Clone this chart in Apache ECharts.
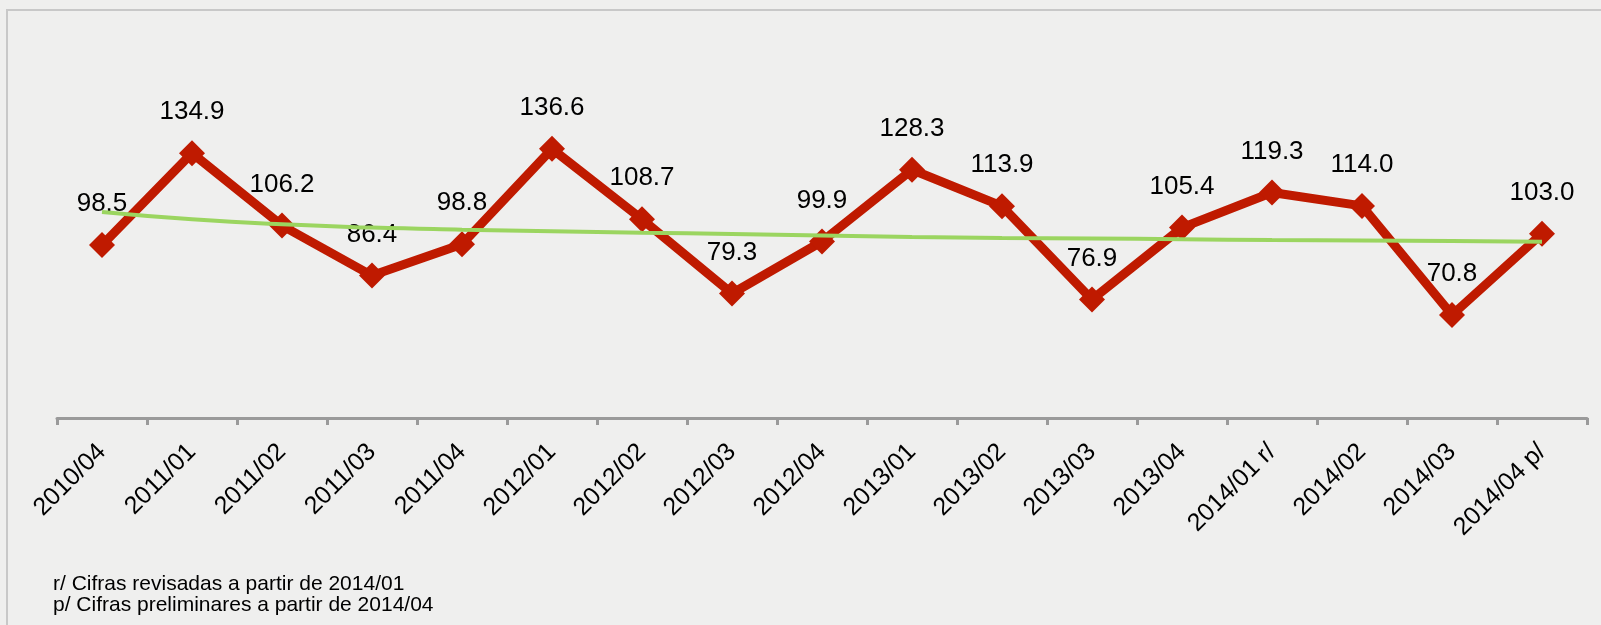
<!DOCTYPE html>
<html>
<head>
<meta charset="utf-8">
<script src="https://cdn.jsdelivr.net/npm/echarts@6/dist/echarts.min.js"></script>
<style>
  html, body { margin: 0; padding: 0; background: #efefee; }
  #chart { width: 1601px; height: 625px; }
</style>
</head>
<body>
<div id="chart"></div>
<script>
// 季度分类
const categories = [
  '2010/04', '2011/01', '2011/02', '2011/03', '2011/04',
  '2012/01', '2012/02', '2012/03', '2012/04',
  '2013/01', '2013/02', '2013/03', '2013/04',
  '2014/01 r/', '2014/02', '2014/03', '2014/04 p/'
];

// 指数值
const values = [
  98.5, 134.9, 106.2, 86.4, 98.8, 136.6, 108.7, 79.3, 99.9,
  128.3, 113.9, 76.9, 105.4, 119.3, 114.0, 70.8, 103.0
];

// 趋势线
const trendValues = [
  111.6, 108.7, 106.7, 105.4, 104.6, 104.0, 103.4, 102.9, 102.3,
  101.7, 101.3, 101.1, 100.8, 100.5, 100.3, 100.1, 99.8
];

// 脚注
const notes = [
  'r/ Cifras revisadas a partir de 2014/01',
  'p/ Cifras preliminares a partir de 2014/04'
];

const FONT = '"Liberation Sans", Arial, sans-serif';

const chart = echarts.init(document.getElementById('chart'));

const option = {
  backgroundColor: '#efefee',
  animation: false,
  grid: { left: 57, right: 14, top: 115, bottom: 207, containLabel: false },
  xAxis: {
    type: 'category',
    data: categories,
    boundaryGap: true,
    axisLine: { lineStyle: { color: '#9a9a9a', width: 3 } },
    axisTick: { show: true, length: 7, lineStyle: { color: '#9a9a9a', width: 3 } },
    axisLabel: {
      rotate: 45,
      margin: 30,
      interval: 0,
      color: '#000',
      fontSize: 25,
      fontFamily: FONT
    }
  },
  yAxis: {
    type: 'value',
    min: 30,
    max: 150,
    show: false,
    splitLine: { show: false }
  },
  series: [
    {
      name: 'Índice',
      type: 'line',
      data: values,
      symbol: 'diamond',
      symbolSize: 26,
      itemStyle: { color: '#bf1a00' },
      lineStyle: { color: '#bf1a00', width: 9 },
      label: {
        show: true,
        position: 'top',
        distance: 15,
        color: '#000',
        fontSize: 26,
        fontFamily: FONT,
        formatter: p => p.value.toFixed(1)
      },
      z: 2
    },
    {
      name: 'Tendencia',
      type: 'line',
      data: trendValues,
      symbol: 'none',
      smooth: true,
      lineStyle: { color: '#9bd560', width: 4 },
      z: 3
    }
  ],
  graphic: [
    {
      type: 'rect',
      shape: { x: 7, y: 10, width: 1700, height: 800 },
      style: { fill: null, stroke: '#c8c8c8', lineWidth: 2 },
      silent: true
    },
    {
      type: 'text',
      left: 53,
      top: 574,
      style: { text: notes[0], fill: '#000', fontSize: 21, fontFamily: FONT }
    },
    {
      type: 'text',
      left: 53,
      top: 595,
      style: { text: notes[1], fill: '#000', fontSize: 21, fontFamily: FONT }
    }
  ]
};

chart.setOption(option);
</script>
</body>
</html>
